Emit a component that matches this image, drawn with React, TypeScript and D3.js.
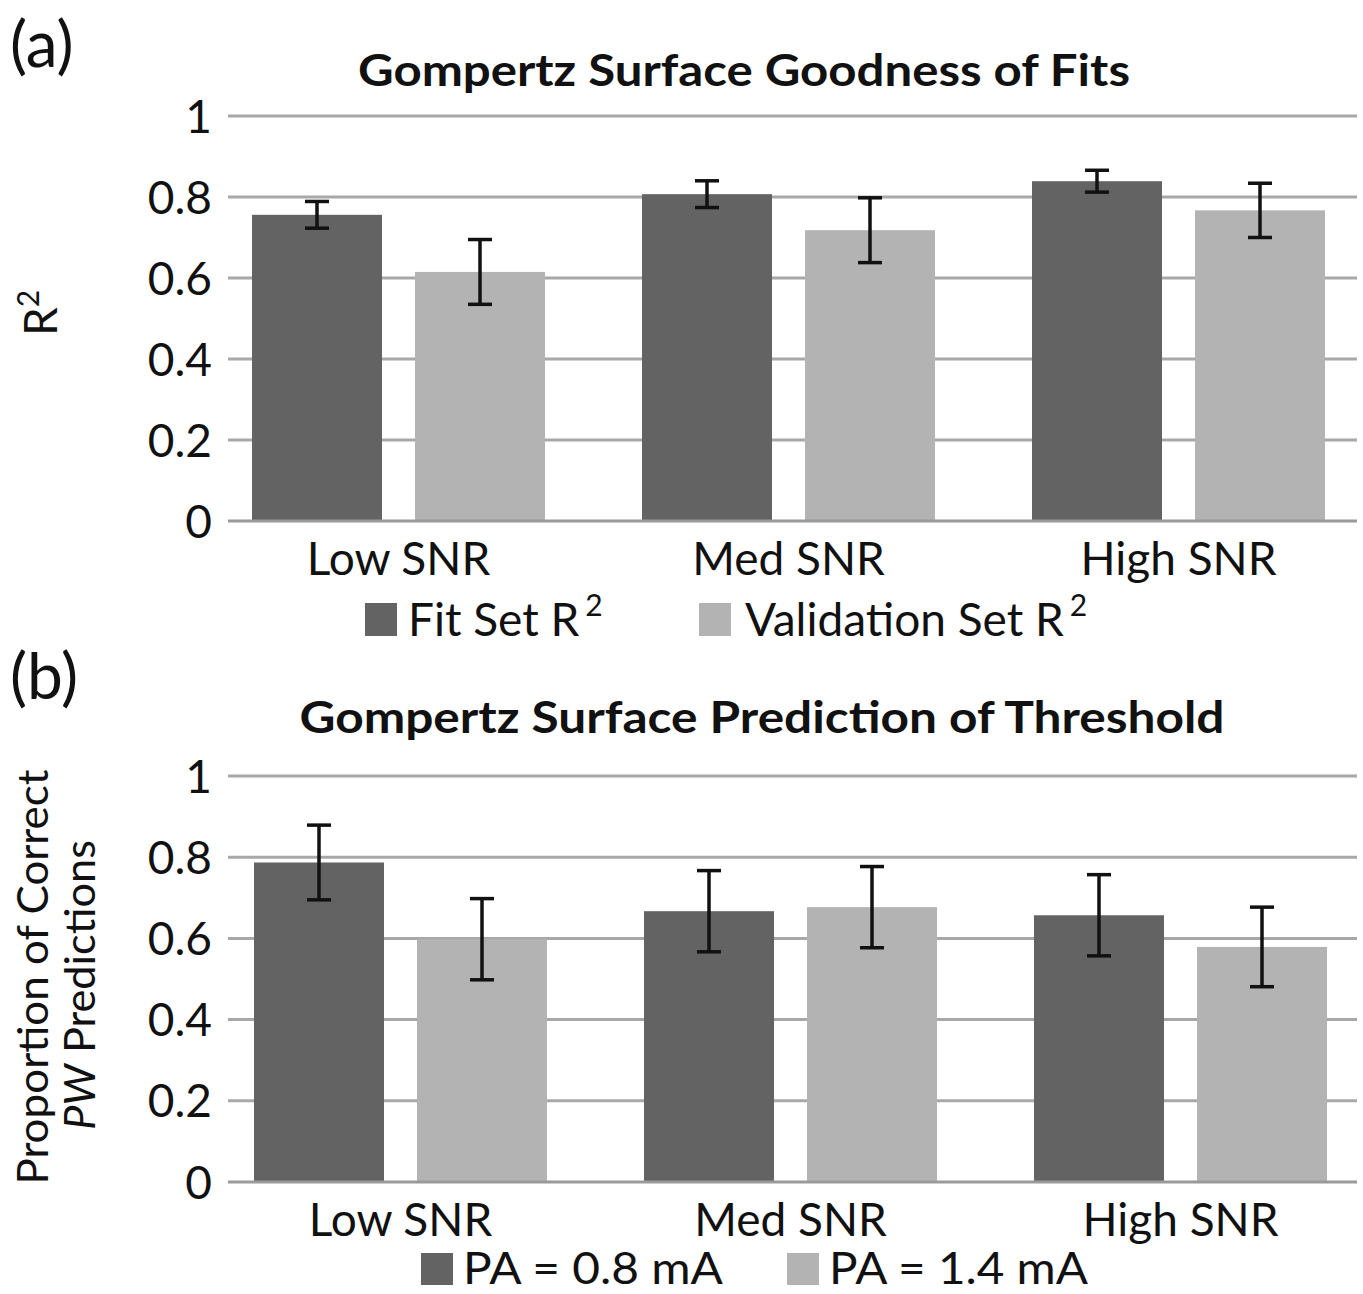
import React from 'react';
import * as d3 from 'd3';

const categories = ['Low SNR', 'Med SNR', 'High SNR'];
const fitR2 = [0.756, 0.807, 0.839];
const fitR2Err = [0.033, 0.033, 0.027];
const valR2 = [0.615, 0.718, 0.767];
const valR2Err = [0.08, 0.08, 0.067];
const pa08 = [0.787, 0.667, 0.657];
const pa08Err = [0.092, 0.1, 0.1];
const pa14 = [0.598, 0.677, 0.579];
const pa14Err = [0.1, 0.1, 0.098];
const yTicks = [0, 0.2, 0.4, 0.6, 0.8, 1];
const yTickLabels = ['0', '0.2', '0.4', '0.6', '0.8', '1'];

const DARK = '#636363';
const LIGHT = '#b3b3b3';
const GRID = '#a8a8a8';
const FONT = 'Lato, "Open Sans", sans-serif';

type PanelProps = {
  y0: number;
  y1: number;
  shift: number;
  s1: number[];
  e1: number[];
  s2: number[];
  e2: number[];
};

function Panel({ y0, y1, shift, s1, e1, s2, e2 }: PanelProps) {
  const y = d3.scaleLinear().domain([0, 1]).range([y0, y1]);
  const xOuter = d3.scaleBand<string>().domain(categories).range([203.5 + shift, 1373.5 + shift]);
  const xInner = d3.scaleBand<number>().domain([0, 1]).range([48.5, 341.5]).paddingInner(0.2025);
  const series = [
    { vals: s1, errs: e1, color: DARK },
    { vals: s2, errs: e2, color: LIGHT },
  ];
  return (
    <g>
      {yTicks.map((t, i) => (
        <g key={t}>
          {t > 0 && (
            <line x1={228} x2={1357} y1={y(t)} y2={y(t)} stroke={GRID} strokeWidth={3} />
          )}
          <text x={212} y={y(t)} dy="0.36em" textAnchor="end" fontSize={46} fontFamily={FONT} fill="#111">
            {yTickLabels[i]}
          </text>
        </g>
      ))}
      {series.map((s, si) =>
        categories.map((c, ci) => {
          const x = (xOuter(c) as number) + (xInner(si) as number);
          const w = xInner.bandwidth();
          return (
            <rect key={`${si}-${ci}`} x={x} y={y(s.vals[ci])} width={w} height={y(0) - y(s.vals[ci])} fill={s.color} />
          );
        })
      )}
      <line x1={228} x2={1357} y1={y(0)} y2={y(0)} stroke="#9a9a9a" strokeWidth={3} />
      {series.map((s, si) =>
        categories.map((c, ci) => {
          const cx = (xOuter(c) as number) + (xInner(si) as number) + xInner.bandwidth() / 2;
          const hi = y(s.vals[ci] + s.errs[ci]);
          const lo = y(s.vals[ci] - s.errs[ci]);
          return (
            <g key={`e${si}-${ci}`} stroke="#111" strokeWidth={3.5}>
              <line x1={cx} x2={cx} y1={hi} y2={lo} />
              <line x1={cx - 12} x2={cx + 12} y1={hi} y2={hi} />
              <line x1={cx - 12} x2={cx + 12} y1={lo} y2={lo} />
            </g>
          );
        })
      )}
      {categories.map((c) => (
        <text
          key={c}
          x={(xOuter(c) as number) + xOuter.bandwidth() / 2}
          y={y0 + 54}
          textAnchor="middle"
          fontSize={46}
          fontFamily={FONT}
          fill="#111"
        >
          {c}
        </text>
      ))}
    </g>
  );
}

export default function App() {
  return (
    <svg
      width={1363}
      height={1294}
      style={{ position: 'absolute', left: 0, top: 0, background: '#fff' }}
      fontFamily={FONT}
    >
      <rect width={1363} height={1294} fill="#fff" />
      {/* Panel (a) */}
      <text x={10} y={67} fontSize={64} fontFamily={FONT} fill="#111">(a)</text>
      <text x={744} y={86} textAnchor="middle" fontSize={44} fontWeight="bold" fontFamily={FONT} fill="#111" textLength={772} lengthAdjust="spacingAndGlyphs">
        Gompertz Surface Goodness of Fits
      </text>
      <text transform="translate(57,313) rotate(-90)" textAnchor="middle" fontSize={46} fontFamily={FONT} fill="#111">
        R<tspan fontSize={30} dy={-18}>2</tspan>
      </text>
      <Panel y0={521} y1={116} shift={0} s1={fitR2} e1={fitR2Err} s2={valR2} e2={valR2Err} />
      <rect x={365} y={603} width={32} height={33} fill={DARK} />
      <text x={408} y={636} fontSize={46} fontFamily={FONT} fill="#111">
        Fit Set R<tspan fontSize={30} dx={6} dy={-20}>2</tspan>
      </text>
      <rect x={699} y={603} width={32} height={33} fill={LIGHT} />
      <text x={745} y={636} fontSize={46} fontFamily={FONT} fill="#111">
        Validation Set R<tspan fontSize={30} dx={6} dy={-20}>2</tspan>
      </text>

      {/* Panel (b) */}
      <text x={10} y={699} fontSize={64} fontFamily={FONT} fill="#111">(b)</text>
      <text x={762} y={733} textAnchor="middle" fontSize={44} fontWeight="bold" fontFamily={FONT} fill="#111" textLength={925} lengthAdjust="spacingAndGlyphs">
        Gompertz Surface Prediction of Threshold
      </text>
      <text transform="translate(48,977) rotate(-90)" textAnchor="middle" fontSize={42} fontFamily={FONT} fill="#111" textLength={415} lengthAdjust="spacingAndGlyphs">
        Proportion of Correct
      </text>
      <text transform="translate(95,985) rotate(-90)" textAnchor="middle" fontSize={42} fontFamily={FONT} fill="#111" textLength={290} lengthAdjust="spacingAndGlyphs">
        <tspan fontStyle="italic">PW</tspan> Predictions
      </text>
      <Panel y0={1182} y1={776} shift={2} s1={pa08} e1={pa08Err} s2={pa14} e2={pa14Err} />
      <rect x={421} y={1253} width={32} height={32} fill={DARK} />
      <text x={463} y={1284} fontSize={44} fontFamily={FONT} fill="#111" textLength={260} lengthAdjust="spacingAndGlyphs">
        PA = 0.8 mA
      </text>
      <rect x={787} y={1253} width={32} height={32} fill={LIGHT} />
      <text x={829} y={1284} fontSize={44} fontFamily={FONT} fill="#111" textLength={259} lengthAdjust="spacingAndGlyphs">
        PA = 1.4 mA
      </text>
    </svg>
  );
}
